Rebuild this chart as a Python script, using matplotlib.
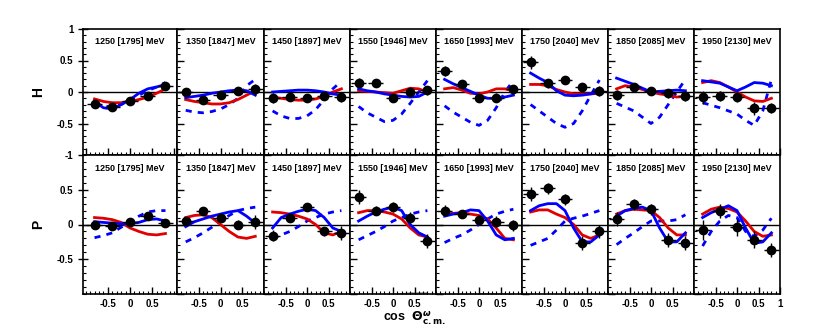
import numpy as np
import matplotlib.pyplot as plt
from matplotlib.ticker import MultipleLocator

plt.rcParams['font.family'] = ['Liberation Sans', 'DejaVu Sans']
plt.rcParams['font.weight'] = 'bold'

labels = ['1250 [1795] MeV', '1350 [1847] MeV', '1450 [1897] MeV', '1550 [1946] MeV',
          '1650 [1993] MeV', '1750 [2040] MeV', '1850 [2085] MeV', '1950 [2130] MeV']

xd = [-0.8, -0.4, 0.0, 0.4, 0.8]
xc = [-0.8, -0.6, -0.4, -0.2, 0.0, 0.2, 0.4, 0.6, 0.8]

# H data points and errors
H_pts = [[-0.195, -0.24, -0.14, -0.06, 0.10],
         [0.0, -0.12, -0.05, 0.02, 0.04],
         [-0.10, -0.08, -0.09, -0.07, -0.085],
         [0.15, 0.15, -0.10, 0.0, 0.03],
         [0.33, 0.12, -0.09, -0.09, 0.04],
         [0.47, 0.14, 0.19, 0.08, 0.02],
         [-0.05, 0.08, 0.02, -0.02, -0.06],
         [-0.085, -0.07, -0.08, -0.26, -0.26]]
H_err = [[0.05, 0.04, 0.04, 0.04, 0.05],
         [0.05, 0.04, 0.04, 0.04, 0.08],
         [0.08, 0.05, 0.05, 0.06, 0.08],
         [0.08, 0.05, 0.06, 0.06, 0.07],
         [0.08, 0.05, 0.06, 0.07, 0.07],
         [0.10, 0.07, 0.06, 0.07, 0.08],
         [0.08, 0.06, 0.06, 0.07, 0.08],
         [0.10, 0.08, 0.08, 0.10, 0.08]]
H_red = [[-0.11, -0.15, -0.17, -0.17, -0.15, -0.12, -0.08, -0.02, 0.05],
         [-0.12, -0.15, -0.17, -0.19, -0.19, -0.17, -0.12, -0.05, 0.02],
         [-0.08, -0.10, -0.12, -0.13, -0.13, -0.11, -0.07, 0.0, 0.05],
         [0.02, 0.01, 0.0, -0.01, -0.02, 0.02, 0.06, 0.05, 0.0],
         [0.05, 0.07, 0.03, -0.02, -0.03, 0.0, 0.05, 0.05, 0.02],
         [0.12, 0.12, 0.10, 0.04, 0.0, -0.03, -0.03, -0.03, -0.02],
         [0.05, 0.10, 0.08, 0.04, 0.0, -0.03, -0.05, -0.08, -0.07],
         [0.15, 0.18, 0.15, 0.08, 0.0, -0.08, -0.14, -0.15, -0.10]]
H_blue = [[-0.15, -0.25, -0.27, -0.20, -0.12, -0.02, 0.05, 0.08, 0.12],
          [-0.09, -0.07, -0.05, -0.02, 0.0, 0.02, 0.03, 0.02, -0.05],
          [0.0, 0.01, 0.02, 0.03, 0.03, 0.02, 0.0, -0.03, -0.05],
          [0.05, 0.02, 0.0, -0.03, -0.05, -0.07, -0.08, -0.07, 0.0],
          [0.20, 0.13, 0.07, 0.01, -0.05, -0.10, -0.10, -0.08, -0.05],
          [0.30, 0.22, 0.15, 0.02, -0.05, -0.06, -0.05, -0.03, 0.0],
          [0.22, 0.17, 0.12, 0.06, 0.0, 0.01, 0.02, 0.03, 0.02],
          [0.18, 0.16, 0.14, 0.08, 0.02, 0.08, 0.15, 0.14, 0.10]]
H_dash = [[-0.18, -0.22, -0.24, -0.20, -0.12, -0.05, 0.02, 0.08, 0.15],
          [-0.29, -0.32, -0.33, -0.31, -0.27, -0.20, -0.10, 0.10, 0.20],
          [-0.30, -0.38, -0.42, -0.42, -0.38, -0.28, -0.12, 0.05, 0.17],
          [-0.23, -0.33, -0.40, -0.47, -0.45, -0.35, -0.18, 0.0, 0.18],
          [-0.22, -0.32, -0.40, -0.48, -0.53, -0.45, -0.25, 0.0, 0.18],
          [-0.20, -0.30, -0.40, -0.50, -0.56, -0.50, -0.30, -0.05, 0.19],
          [-0.18, -0.24, -0.30, -0.40, -0.50, -0.40, -0.20, 0.0, 0.20],
          [-0.17, -0.21, -0.25, -0.30, -0.35, -0.45, -0.53, -0.30, 0.20]]
H_sys = [[0, 0, 0, 0, 0], [0, 0, 0, 0, 0], [0, 0, 0, 0, 0],
         [0.01, 0.01, 0.01, 0.02, 0.03], [0.02, 0.02, 0.02, 0.03, 0.03],
         [0.02, 0.02, 0.02, 0.02, 0.02], [0.02, 0.02, 0.02, 0.02, 0.02],
         [0.02, 0.02, 0.02, 0.02, 0.02]]

# P data points and errors
P_pts = [[0.0, -0.02, 0.04, 0.12, 0.02],
         [0.05, 0.19, 0.10, 0.0, 0.04],
         [-0.16, 0.10, 0.25, -0.10, -0.12],
         [0.39, 0.20, 0.25, 0.10, -0.24],
         [0.20, 0.15, 0.06, 0.04, -0.01],
         [0.44, 0.52, 0.36, -0.27, -0.10],
         [0.08, 0.29, 0.22, -0.22, -0.27],
         [-0.08, 0.20, -0.04, -0.22, -0.37]]
P_err = [[0.04, 0.04, 0.05, 0.05, 0.06],
         [0.06, 0.06, 0.06, 0.06, 0.10],
         [0.08, 0.06, 0.06, 0.07, 0.10],
         [0.10, 0.07, 0.07, 0.08, 0.10],
         [0.08, 0.06, 0.07, 0.08, 0.08],
         [0.10, 0.08, 0.08, 0.10, 0.10],
         [0.10, 0.08, 0.08, 0.10, 0.10],
         [0.15, 0.10, 0.12, 0.12, 0.10]]
P_red = [[0.10, 0.09, 0.07, 0.03, -0.05, -0.10, -0.14, -0.15, -0.13],
         [0.10, 0.13, 0.14, 0.10, 0.0, -0.10, -0.18, -0.20, -0.17],
         [0.18, 0.17, 0.15, 0.12, 0.08, 0.0, -0.12, -0.15, -0.10],
         [0.17, 0.20, 0.20, 0.18, 0.15, 0.08, -0.05, -0.15, -0.18],
         [0.15, 0.16, 0.17, 0.15, 0.13, 0.08, -0.05, -0.20, -0.22],
         [0.18, 0.21, 0.21, 0.15, 0.10, 0.0, -0.15, -0.20, -0.15],
         [0.15, 0.20, 0.22, 0.21, 0.20, 0.10, -0.05, -0.15, -0.15],
         [0.15, 0.22, 0.25, 0.23, 0.18, 0.05, -0.10, -0.17, -0.15]]
P_blue = [[0.04, 0.03, 0.02, 0.01, 0.01, 0.03, 0.07, 0.08, 0.05],
          [-0.03, 0.04, 0.08, 0.12, 0.15, 0.18, 0.20, 0.12, 0.02],
          [-0.05, 0.10, 0.15, 0.19, 0.22, 0.20, 0.10, -0.05, -0.10],
          [0.05, 0.12, 0.18, 0.22, 0.25, 0.20, 0.0, -0.12, -0.18],
          [0.12, 0.15, 0.17, 0.21, 0.20, 0.05, -0.15, -0.22, -0.20],
          [0.20, 0.27, 0.30, 0.30, 0.20, -0.05, -0.25, -0.25, -0.15],
          [0.12, 0.20, 0.23, 0.25, 0.20, -0.05, -0.25, -0.25, -0.12],
          [0.10, 0.17, 0.22, 0.27, 0.20, -0.05, -0.27, -0.25, -0.12]]
P_dash = [[-0.19, -0.16, -0.12, -0.04, 0.03, 0.12, 0.18, 0.20, 0.20],
          [-0.25, -0.19, -0.12, -0.04, 0.05, 0.13, 0.20, 0.23, 0.25],
          [-0.20, -0.15, -0.10, -0.03, 0.05, 0.10, 0.15, 0.18, 0.20],
          [-0.22, -0.16, -0.10, -0.03, 0.05, 0.10, 0.15, 0.18, 0.20],
          [-0.26, -0.20, -0.15, -0.08, 0.0, 0.08, 0.15, 0.19, 0.22],
          [-0.30, -0.25, -0.20, -0.08, 0.05, 0.09, 0.12, 0.16, 0.20],
          [-0.29, -0.20, -0.12, -0.03, 0.05, 0.05, 0.05, 0.07, 0.14],
          [-0.31, -0.10, 0.05, 0.13, 0.10, -0.10, -0.17, -0.08, 0.09]]
P_sys = [[0, 0, 0, 0, 0], [0, 0, 0, 0, 0], [0, 0, 0, 0, 0],
         [0.0, 0.0, 0.01, 0.03, 0.03], [0.01, 0.01, 0.02, 0.02, 0.01],
         [0, 0, 0, 0, 0], [0, 0, 0, 0, 0], [0, 0, 0, 0, 0]]

fig = plt.figure(figsize=(8.3, 3.27), dpi=100)
gs = fig.add_gridspec(2, 8, left=83/830, right=780/830, top=1-29/327, bottom=1-294/327,
                      wspace=0, hspace=0, width_ratios=[94, 87, 86, 86, 86, 86, 86, 86],
                      height_ratios=[126, 139])

rows = [(H_pts, H_err, H_red, H_blue, H_dash, H_sys, 'H'),
        (P_pts, P_err, P_red, P_blue, P_dash, P_sys, 'P')]

for r, (pts, err, red, blue, dash, sys_, name) in enumerate(rows):
    for c in range(8):
        ax = fig.add_subplot(gs[r, c])
        lim = 1.06 if c == 0 else 1.0
        ax.set_xlim(-lim, lim)
        ax.set_ylim(-1, 1)
        ax.axhline(0, color='black', lw=1.0, zorder=1)
        ax.fill_between(xd, -1, [-1 + s for s in sys_[c]], color='#808080', lw=0, zorder=1)
        ax.plot(xc, dash[c], color='#0000ff', lw=2.0, ls=(0, (2.2, 2.2)), zorder=3)
        ax.plot(xc, red[c], color='#e00000', lw=2.0, zorder=3)
        ax.plot(xc, blue[c], color='#0000ff', lw=2.0, zorder=3)
        ax.errorbar(xd, pts[c], yerr=err[c], xerr=0.17, fmt='o', color='black',
                    ms=6, elinewidth=1.0, capsize=0, zorder=4)
        ax.text(0, 0.8, labels[c], ha='center', va='center', fontsize=6.5, fontweight='bold')
        for s in ax.spines.values():
            s.set_linewidth(1.2)
        ax.xaxis.set_major_locator(MultipleLocator(0.5))
        ax.xaxis.set_minor_locator(MultipleLocator(0.1))
        ax.yaxis.set_major_locator(MultipleLocator(0.5))
        ax.yaxis.set_minor_locator(MultipleLocator(0.1))
        ax.tick_params(which='major', direction='in', length=5, width=1, labelsize=7,
                       top=False, right=False)
        ax.tick_params(which='minor', direction='in', length=2.5, width=0.8,
                       top=False, right=False)
        if c == 0:
            ax.tick_params(axis='y', which='major', direction='inout', length=7)
            ax.set_ylabel(name, fontsize=10, fontweight='bold', labelpad=8)
            if r == 0:
                ax.set_yticks([-1, -0.5, 0, 0.5, 1])
                ax.set_yticklabels(['-1', '-0.5', '0', '0.5', '1'])
            else:
                ax.set_yticks([-0.5, 0, 0.5])
                ax.set_yticklabels(['-0.5', '0', '0.5'])
        else:
            ax.tick_params(axis='y', labelleft=False)
        if r == 1:
            if c == 7:
                ax.set_xticks([-0.5, 0, 0.5, 1])
                ax.set_xticklabels(['-0.5', '0', '0.5', '1'])
            else:
                ax.set_xticks([-0.5, 0, 0.5])
                ax.set_xticklabels(['-0.5', '0', '0.5'])
        else:
            ax.tick_params(axis='x', labelbottom=False)

fig.text(0.5, 0.028, r'cos  $\Theta^{\omega}_{\mathbf{c.m.}}$', ha='center', va='center',
         fontsize=9, fontweight='bold')

fig.savefig('out.png', dpi=100)
